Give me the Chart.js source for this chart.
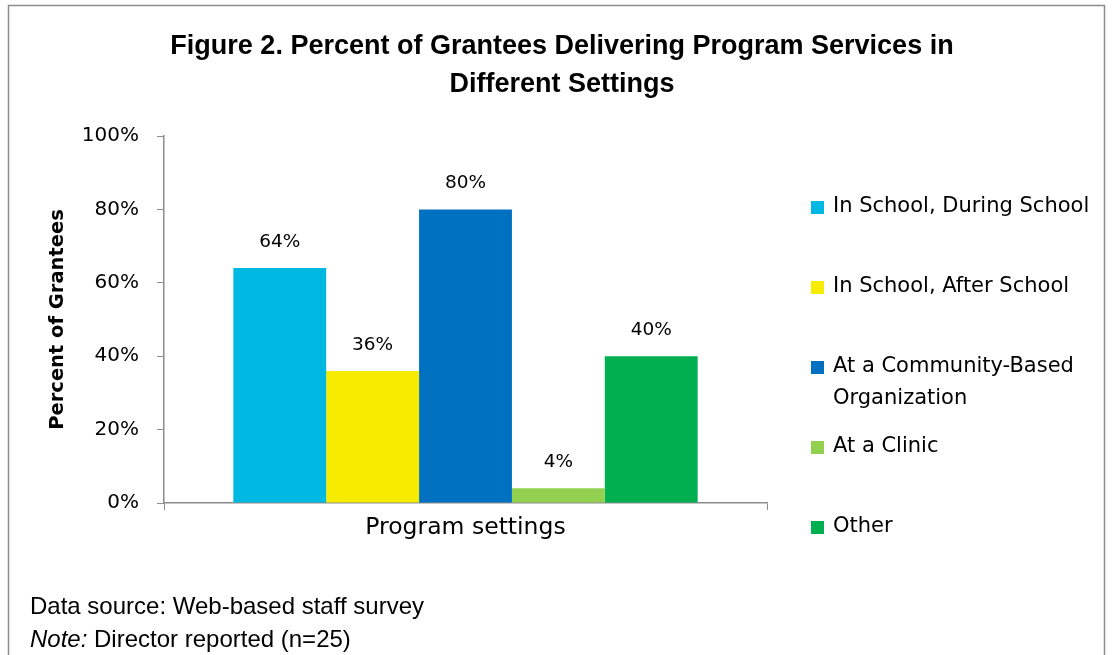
<!DOCTYPE html>
<html>
<head>
<meta charset="utf-8">
<script src="https://cdn.jsdelivr.net/npm/chart.js@4"></script>
<style>
  body { margin: 0; background: #fff; }
  #wrap { position: relative; width: 1112px; height: 655px; }
</style>
</head>
<body>
<div id="wrap"><canvas id="chart" width="1112" height="655"></canvas></div>
<script>
const FONT = '"DejaVu Sans", sans-serif';
const NARROW = '"Liberation Sans Narrow", "Liberation Sans", sans-serif';

const categories = ['Program settings'];
const seriesNames = ['In School, During School', 'In School, After School', 'At a Community-Based\nOrganization', 'At a Clinic', 'Other'];
const seriesValues = [64, 36, 80, 4, 40];
const seriesColors = ['#00B9E2', '#F7EC00', '#0070C0', '#92D050', '#00B050'];
const yTicks = [0, 20, 40, 60, 80, 100];
const titleLines = ['Figure 2. Percent of Grantees Delivering Program Services in', 'Different Settings'];
const yTitle = 'Percent of Grantees';

// frame round the whole figure
const framePlugin = {
    id: 'frame',
    beforeDraw(chart) {
        const c = chart.ctx;
        c.save();
        c.strokeStyle = '#8c8c8c';
        c.lineWidth = 1.5;
        c.beginPath();
        c.moveTo(8.5, 660);
        c.lineTo(8.5, 5.5);
        c.lineTo(1104.5, 5.5);
        c.lineTo(1104.5, 660);
        c.stroke();
        c.restore();
    }
};

// title centred on the whole figure
const topTitle = {
    id: 'topTitle',
    afterDraw(chart) {
        const c = chart.ctx;
        c.save();
        c.font = 'bold 27px ' + NARROW;
        c.fillStyle = '#000';
        c.textAlign = 'center';
        c.textBaseline = 'middle';
        titleLines.forEach((line, i) => c.fillText(line, 562, 47 + i * 38));
        c.restore();
    }
};

// value labels above bars
const valueLabels = {
    id: 'valueLabels',
    afterDatasetsDraw(chart) {
        const c = chart.ctx;
        c.save();
        c.font = '18.5px ' + FONT;
        c.fillStyle = '#000';
        c.textAlign = 'center';
        c.textBaseline = 'middle';
        chart.data.datasets.forEach((ds, i) => {
            chart.getDatasetMeta(i).data.forEach((bar, j) => {
                c.fillText(ds.data[j] + '%', bar.x, bar.y - 26);
            });
        });
        c.restore();
    }
};

// legend on the right, items spread down like the original
const sideLegend = {
    id: 'sideLegend',
    afterDraw(chart) {
        const c = chart.ctx;
        c.save();
        c.font = '21px ' + FONT;
        c.textBaseline = 'middle';
        chart.data.datasets.forEach((ds, i) => {
            const y = 207 + 80 * i;
            c.fillStyle = ds.backgroundColor;
            c.fillRect(811, y - 6, 13, 13);
            c.fillStyle = '#000';
            ds.label.split('\n').forEach((line, k) => {
                c.fillText(line, 833, y + k * 32);
            });
        });
        c.restore();
    }
};

// footer notes
const footer = {
    id: 'footer',
    afterDraw(chart) {
        const c = chart.ctx;
        c.save();
        c.fillStyle = '#000';
        c.textBaseline = 'middle';
        c.font = '24px ' + NARROW;
        c.fillText('Data source: Web-based staff survey', 30, 607);
        c.font = 'italic 24px ' + NARROW;
        c.fillText('Note:', 30, 640);
        const w = c.measureText('Note: ').width;
        c.font = '24px ' + NARROW;
        c.fillText('Director reported (n=25)', 30 + w, 640);
        c.restore();
    }
};

new Chart(document.getElementById('chart'), {
    type: 'bar',
    data: {
        labels: categories,
        datasets: seriesNames.map((name, i) => ({
            label: name,
            data: [seriesValues[i]],
            backgroundColor: seriesColors[i],
            borderWidth: 0,
            categoryPercentage: 0.77,
            barPercentage: 1
        }))
    },
    options: {
        responsive: false,
        animation: false,
        layout: { padding: { left: 40, right: 345, top: 136, bottom: 112 } },
        plugins: {
            legend: { display: false },
            tooltip: { enabled: false },
            title: { display: false }
        },
        scales: {
            x: {
                grid: { display: true, offset: true, drawOnChartArea: false, tickLength: 7, color: '#8c8c8c' },
                border: { color: '#8c8c8c', width: 1.5 },
                ticks: { color: '#000', font: { family: FONT, size: 23.5 }, padding: 4 },
                afterFit(scale) { scale.height = 40; }
            },
            y: {
                min: 0,
                max: 100,
                afterBuildTicks(scale) { scale.ticks = yTicks.map(v => ({ value: v })); },
                grid: { display: true, drawOnChartArea: false, tickLength: 7, color: '#8c8c8c' },
                border: { color: '#8c8c8c', width: 1.5 },
                ticks: {
                    color: '#000',
                    font: { family: FONT, size: 20 },
                    padding: 18,
                    callback: v => v + '%'
                },
                title: {
                    display: true,
                    text: yTitle,
                    color: '#000',
                    font: { family: FONT, size: 19.5, weight: 'bold' },
                    padding: { top: 6, bottom: 0 }
                },
                afterFit(scale) { scale.width = 124; }
            }
        }
    },
    plugins: [framePlugin, topTitle, valueLabels, sideLegend, footer]
});
</script>
</body>
</html>
